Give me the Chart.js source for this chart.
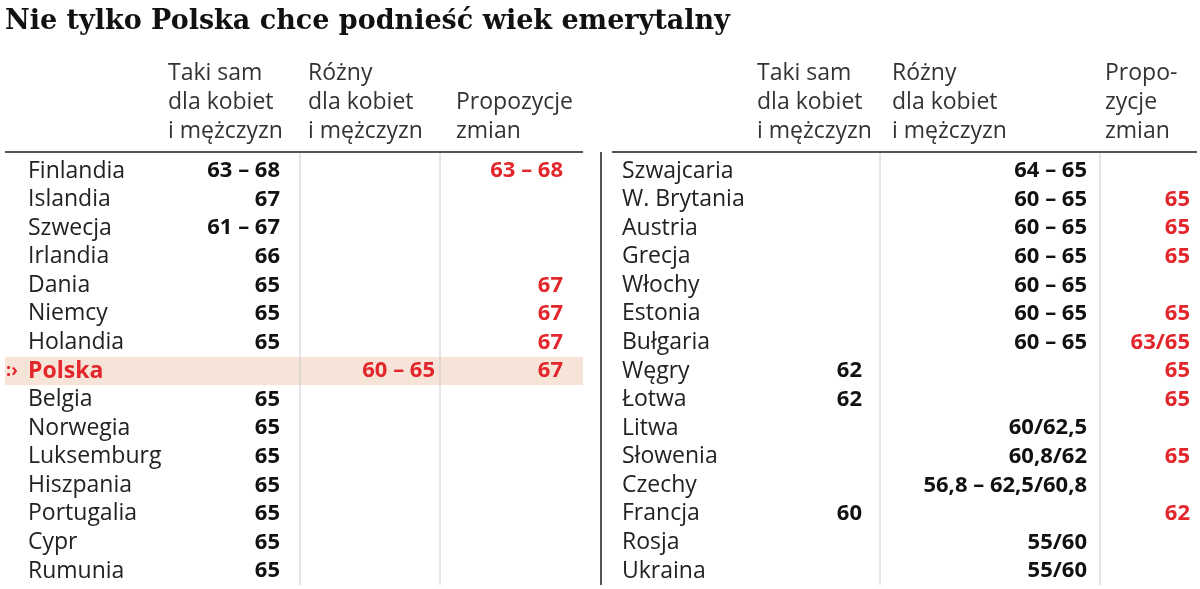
<!DOCTYPE html>
<html><head><meta charset="utf-8">
<script src="https://cdn.jsdelivr.net/npm/chart.js@4"></script>
<style>body{margin:0;background:#fff}canvas{display:block}</style>
</head><body>
<canvas id="c" width="1200" height="589"></canvas>
<script>
// Dane tabeli
const title = 'Nie tylko Polska chce podnieść wiek emerytalny';
const leftHeaders = [['Taki sam', 'dla kobiet', 'i mężczyzn'], ['Różny', 'dla kobiet', 'i mężczyzn'], ['', 'Propozycje', 'zmian']];
const rightHeaders = [['Taki sam', 'dla kobiet', 'i mężczyzn'], ['Różny', 'dla kobiet', 'i mężczyzn'], ['Propo-', 'zycje', 'zmian']];

const leftCountries = ['Finlandia', 'Islandia', 'Szwecja', 'Irlandia', 'Dania', 'Niemcy', 'Holandia', 'Polska', 'Belgia', 'Norwegia', 'Luksemburg', 'Hiszpania', 'Portugalia', 'Cypr', 'Rumunia'];
const leftSame = ['63 – 68', '67', '61 – 67', '66', '65', '65', '65', '', '65', '65', '65', '65', '65', '65', '65'];
const leftDiff = ['', '', '', '', '', '', '', '60 – 65', '', '', '', '', '', '', ''];
const leftProp = ['63 – 68', '', '', '', '67', '67', '67', '67', '', '', '', '', '', '', ''];

const rightCountries = ['Szwajcaria', 'W. Brytania', 'Austria', 'Grecja', 'Włochy', 'Estonia', 'Bułgaria', 'Węgry', 'Łotwa', 'Litwa', 'Słowenia', 'Czechy', 'Francja', 'Rosja', 'Ukraina'];
const rightSame = ['', '', '', '', '', '', '', '62', '62', '', '', '', '60', '', ''];
const rightDiff = ['64 – 65', '60 – 65', '60 – 65', '60 – 65', '60 – 65', '60 – 65', '60 – 65', '', '', '60/62,5', '60,8/62', '56,8 – 62,5/60,8', '', '55/60', '55/60'];
const rightProp = ['', '65', '65', '65', '', '65', '63/65', '65', '65', '', '65', '', '62', '', ''];

const RED = '#e2262b';

const tablePlugin = {
    id: 'table',
    afterDraw: (chart) => {
        const c = chart.ctx, xs = chart.scales.x, ys = chart.scales.y;
        const X = v => xs.getPixelForValue(v), Y = v => ys.getPixelForValue(v);
        const rowY = i => Y(171 + i * 28.57);
        c.save();
        c.textBaseline = 'middle';

        // tytuł
        c.fillStyle = '#111';
        c.font = 'bold 27px "DejaVu Serif"';
        c.textAlign = 'left';
        c.fillText(title, X(5), Y(22));

        // podświetlenie Polski
        c.fillStyle = '#f7e4d9';
        c.fillRect(X(5), rowY(7) - 14, X(583) - X(5), 28);

        const drawHalf = (h, countries, same, diff, prop, g) => {
            c.font = '23px "Open Sans"';
            c.fillStyle = '#333';
            c.textAlign = 'left';
            h.forEach((lines, k) => lines.forEach((t, j) => c.fillText(t, X(g.hx[k]), Y(73 + j * 29))));
            // linie
            c.strokeStyle = '#555'; c.lineWidth = 2;
            c.beginPath(); c.moveTo(X(g.l0), Y(152)); c.lineTo(X(g.l1), Y(152)); c.stroke();
            c.strokeStyle = '#ccc'; c.lineWidth = 1;
            g.sep.forEach(s => { c.beginPath(); c.moveTo(X(s), Y(153)); c.lineTo(X(s), Y(585)); c.stroke(); });
            countries.forEach((name, i) => {
                const y = rowY(i);
                const pl = name === 'Polska';
                c.textAlign = 'left';
                c.font = (pl ? 'bold ' : '') + '23px "Open Sans"';
                c.fillStyle = pl ? RED : '#222';
                c.fillText(name, X(g.nx), y);
                c.textAlign = 'right';
                c.font = 'bold 22px "Open Sans"';
                c.fillStyle = '#111';
                c.fillText(same[i], X(g.vx[0]), y);
                c.fillStyle = pl ? RED : '#111';
                c.fillText(diff[i], X(g.vx[1]), y);
                c.fillStyle = RED;
                c.fillText(prop[i], X(g.vx[2]), y);
            });
        };
        drawHalf(leftHeaders, leftCountries, leftSame, leftDiff, leftProp,
            { hx: [168, 308, 456], nx: 28, vx: [280, 435, 563], sep: [300, 440], l0: 5, l1: 583 });
        drawHalf(rightHeaders, rightCountries, rightSame, rightDiff, rightProp,
            { hx: [757, 892, 1105], nx: 622, vx: [862, 1087, 1190], sep: [880, 1100], l0: 612, l1: 1197 });

        // pionowa linia między połówkami
        c.strokeStyle = '#555'; c.lineWidth = 2;
        c.beginPath(); c.moveTo(X(601), Y(152)); c.lineTo(X(601), Y(585)); c.stroke();

        // znacznik Polski
        c.fillStyle = RED;
        c.textAlign = 'left';
        c.font = 'bold 18px "Open Sans"';
        c.fillText(':›', X(6), rowY(7));
        c.restore();
    }
};

new Chart(document.getElementById('c'), {
    type: 'scatter',
    data: { datasets: [{ data: [] }] },
    options: {
        responsive: false,
        animation: false,
        layout: { padding: 0 },
        plugins: { legend: { display: false }, tooltip: { enabled: false } },
        scales: {
            x: { type: 'linear', min: 0, max: 1200, display: false },
            y: { type: 'linear', min: 0, max: 589, reverse: true, display: false }
        }
    },
    plugins: [tablePlugin]
});
</script>
</body></html>
